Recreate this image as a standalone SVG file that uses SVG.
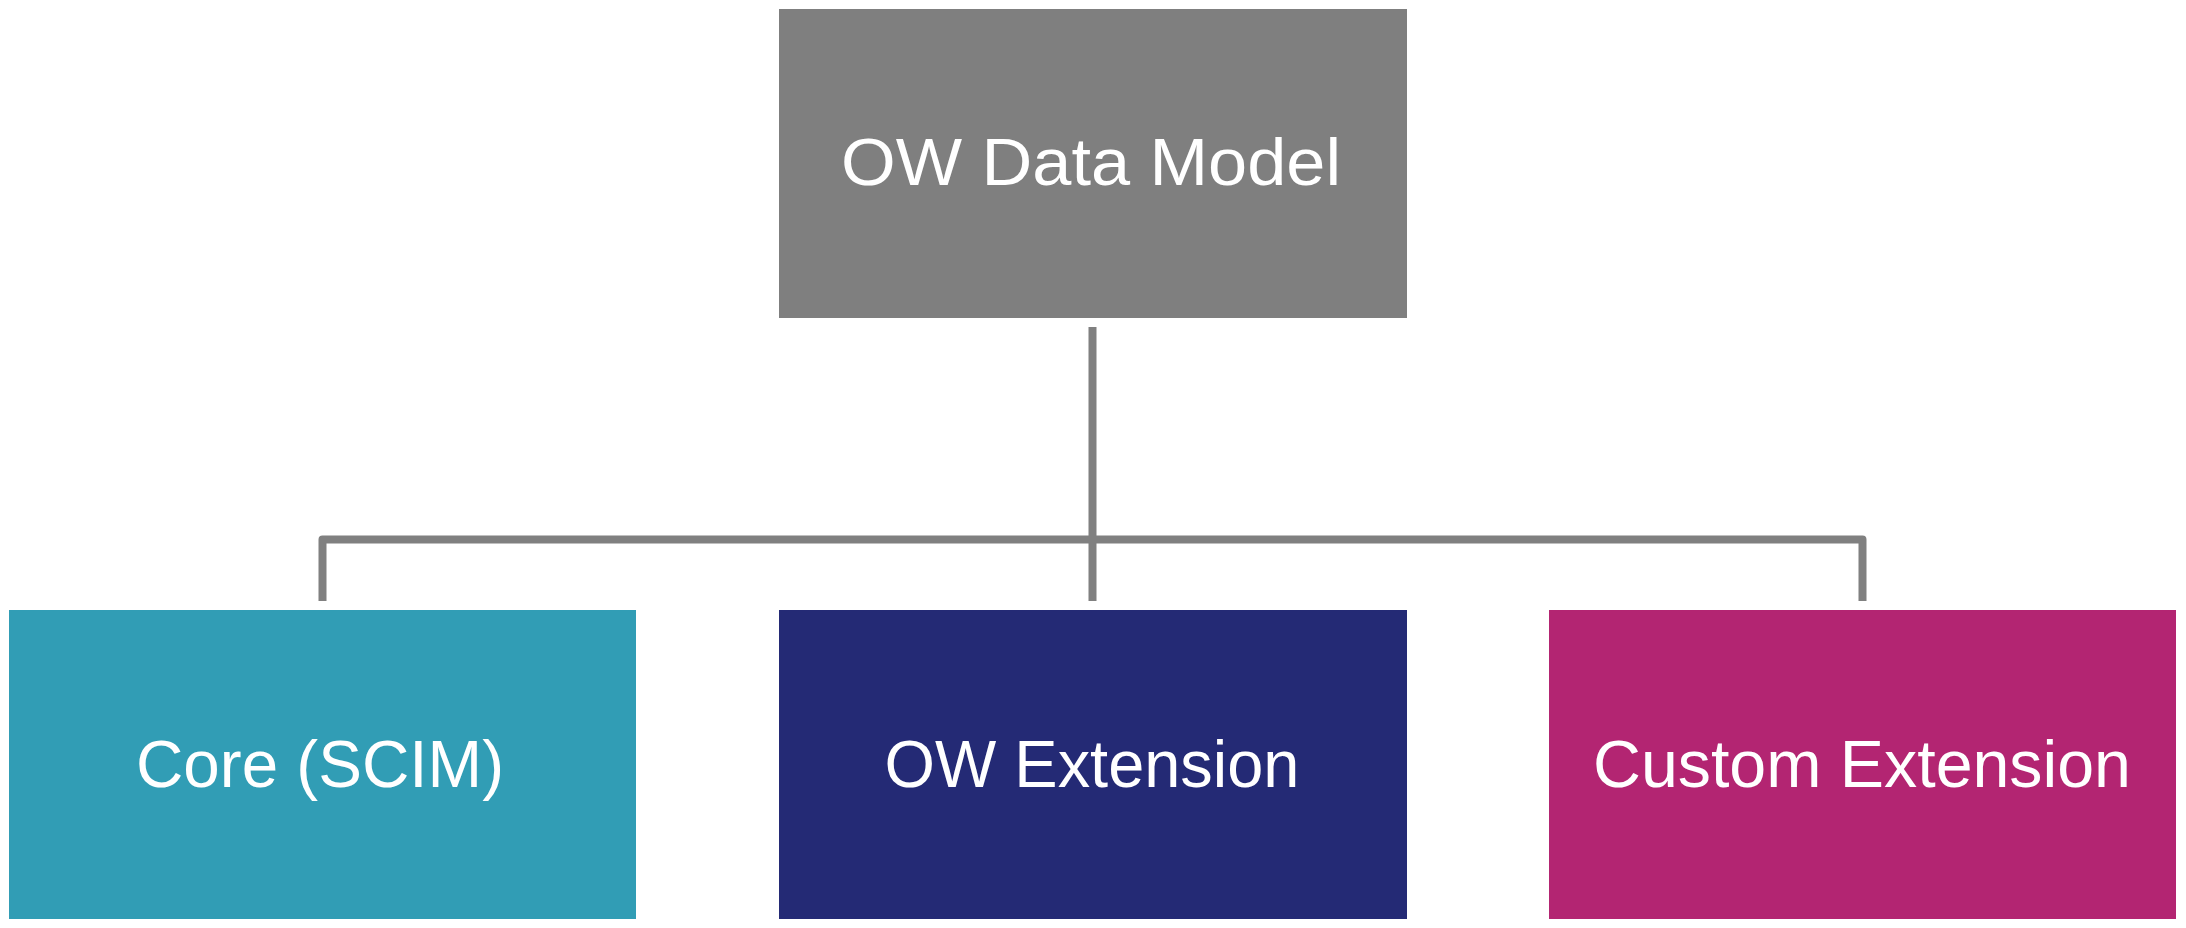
<svg xmlns="http://www.w3.org/2000/svg" width="2186" height="928" viewBox="0 0 2186 928">
<style>
.lbl{font-family:"Liberation Sans",Arial,sans-serif;font-size:66px;fill:#ffffff;text-anchor:middle}
.conn{fill:none;stroke:#808080;stroke-width:8;stroke-linejoin:round}
</style>
<rect width="2186" height="928" fill="#ffffff"/>
<g id="connectors">
<path class="conn" d="M322.5 601 V539.5 H1862.5 V601"/>
<path class="conn" d="M1092.5 327 V601"/>
</g>
<g id="node-ow-data-model">
<rect x="779" y="9" width="628" height="309" fill="#7f7f7f"/>
<text class="lbl" x="1091" y="185" textLength="500" lengthAdjust="spacingAndGlyphs">OW Data Model</text>
</g>
<g id="node-core">
<rect x="9" y="610" width="627" height="309" fill="#319db5"/>
<text class="lbl" x="320" y="787" textLength="368" lengthAdjust="spacingAndGlyphs">Core (SCIM)</text>
</g>
<g id="node-ow-extension">
<rect x="779" y="610" width="628" height="309" fill="#242a75"/>
<text class="lbl" x="1092" y="787" textLength="415" lengthAdjust="spacingAndGlyphs">OW Extension</text>
</g>
<g id="node-custom-extension">
<rect x="1549" y="610" width="627" height="309" fill="#b32572"/>
<text class="lbl" x="1862" y="787" textLength="538" lengthAdjust="spacingAndGlyphs">Custom Extension</text>
</g>
</svg>
